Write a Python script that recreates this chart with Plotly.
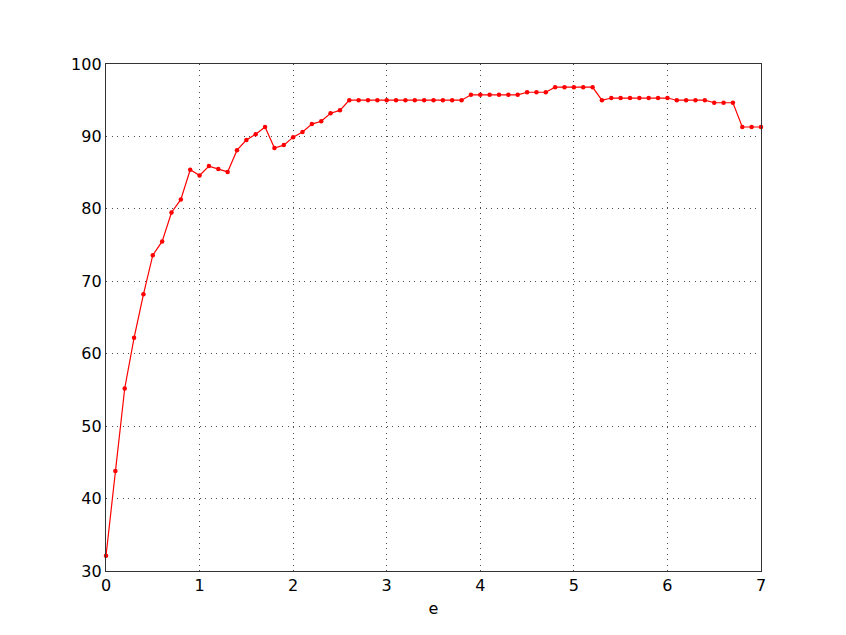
import plotly.graph_objects as go

e_values = [round(i * 0.1, 1) for i in range(71)]
accuracy = [
    32.1, 43.8, 55.2, 62.2, 68.2, 73.6, 75.5, 79.5, 81.3, 85.4,
    84.6, 85.9, 85.5, 85.1, 88.1, 89.5, 90.3, 91.3, 88.4, 88.8,
    89.9, 90.6, 91.7, 92.1, 93.2, 93.6, 95.0, 95.0, 95.0, 95.0,
    95.0, 95.0, 95.0, 95.0, 95.0, 95.0, 95.0, 95.0, 95.0, 95.75,
    95.75, 95.75, 95.75, 95.75, 95.75, 96.1, 96.1, 96.1, 96.8, 96.8,
    96.8, 96.8, 96.8, 95.0, 95.3, 95.3, 95.3, 95.3, 95.3, 95.3,
    95.3, 95.0, 95.0, 95.0, 95.0, 94.65, 94.65, 94.65, 91.3, 91.3,
    91.3,
]
x_ticks = [0, 1, 2, 3, 4, 5, 6, 7]
y_ticks = [30, 40, 50, 60, 70, 80, 90, 100]

fig = go.Figure()
fig.add_trace(go.Scatter(
    x=e_values, y=accuracy, mode="lines+markers",
    line=dict(color="red", width=1.2),
    marker=dict(color="red", size=4.5, line=dict(width=0)),
    cliponaxis=False,
))

axis_common = dict(
    showline=True, linecolor="#333333", linewidth=1.3, mirror=True,
    ticks="",
    showgrid=True, gridcolor="rgba(0,0,0,0.7)", griddash="1px,4.5px", gridwidth=1,
    zeroline=False,
    tickfont=dict(family="DejaVu Sans", size=16, color="black"),
)

fig.update_layout(
    width=838, height=627,
    margin=dict(l=98, r=85, t=56, b=64),
    paper_bgcolor="white", plot_bgcolor="white",
    showlegend=False,
    xaxis=dict(range=[0, 7], tickvals=x_ticks, title=dict(text="e", font=dict(family="DejaVu Sans", size=16, color="black"), standoff=8), **axis_common),
    yaxis=dict(range=[30, 100], tickvals=y_ticks, **axis_common),
)

fig.write_html("out.html")
